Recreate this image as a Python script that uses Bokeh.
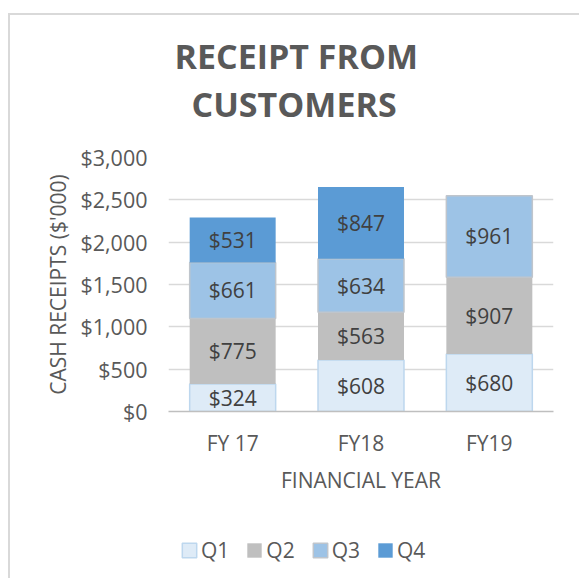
from bokeh.plotting import figure
from bokeh.layouts import column
from bokeh.models import ColumnDataSource, NumeralTickFormatter, Title, Legend, LegendItem
from bokeh.core.properties import value
from bokeh.embed import file_html
from bokeh.resources import INLINE
import numpy as np

categories = ["FY 17", "FY18", "FY19"]
q1 = [324, 608, 680]
q2 = [775, 563, 907]
q3 = [661, 634, 961]
q4 = [531, 847, 0]
quarters = ["Q1", "Q2", "Q3", "Q4"]
y_ticks = [0, 500, 1000, 1500, 2000, 2500, 3000]

fills = ["#DEEBF7", "#BFBFBF", "#9DC3E6", "#5B9BD5"]
lines = ["#BDD7EE", None, "#BFC5CC", None]

FONT = "Open Sans"
GREY = "#595959"

src = ColumnDataSource(dict(cat=categories, Q1=q1, Q2=q2, Q3=q3, Q4=q4))

p = figure(x_range=categories, y_range=(0, 3000), width=569, height=490,
           output_backend="svg", toolbar_location=None,
           min_border_left=158, min_border_right=26,
           min_border_top=142, min_border_bottom=94)
p.outline_line_color = None

rs = p.vbar_stack(quarters, x="cat", width=0.67, source=src,
                  fill_color=fills, line_color=lines, line_width=1.5)

# data labels
vals = np.array([q1, q2, q3, q4], dtype=float)
tops = np.cumsum(vals, axis=0)
mids = tops - vals / 2
lx, ly, lt = [], [], []
for qi in range(4):
    for ci, c in enumerate(categories):
        if vals[qi, ci] > 0:
            lx.append(c)
            ly.append(mids[qi, ci])
            lt.append("${:,.0f}".format(vals[qi, ci]))
p.text(x=lx, y=ly, text=lt, text_align="center", text_baseline="middle",
       text_font=value(FONT), text_font_size="21px", text_color="#404040")

# title (two lines)
p.add_layout(Title(text="CUSTOMERS", align="left", offset=23, text_font=FONT,
                   text_font_size="34px", text_font_style="bold",
                   text_color=GREY, standoff=62), "above")
p.add_layout(Title(text="RECEIPT FROM", align="left", offset=6, text_font=FONT,
                   text_font_size="34px", text_font_style="bold",
                   text_color=GREY, standoff=-62), "above")

# axes
p.yaxis.ticker = y_ticks
p.yaxis.formatter = NumeralTickFormatter(format="$0,0")
p.yaxis.axis_line_color = None
p.yaxis.major_tick_line_color = None
p.yaxis.minor_tick_line_color = None
p.yaxis.major_label_text_font = FONT
p.yaxis.major_label_text_font_size = "21.5px"
p.yaxis.major_label_text_color = GREY
p.yaxis.major_label_standoff = 15
p.yaxis.axis_label = "CASH RECEIPTS ($'000)"
p.yaxis.axis_label_text_font = FONT
p.yaxis.axis_label_text_font_size = "21px"
p.yaxis.axis_label_text_font_style = "normal"
p.yaxis.axis_label_text_color = GREY
p.yaxis.axis_label_standoff = 5

p.xaxis.axis_line_color = "#BFBFBF"
p.xaxis.axis_line_width = 1.5
p.xaxis.major_tick_line_color = None
p.xaxis.minor_tick_line_color = None
p.xaxis.major_label_text_font = FONT
p.xaxis.major_label_text_font_size = "21px"
p.xaxis.major_label_text_color = GREY
p.xaxis.major_label_standoff = 11
p.xaxis.axis_label = "FINANCIAL YEAR"
p.xaxis.axis_label_text_font = FONT
p.xaxis.axis_label_text_font_size = "21px"
p.xaxis.axis_label_text_font_style = "normal"
p.xaxis.axis_label_text_color = GREY
p.xaxis.axis_label_standoff = 6

p.xgrid.grid_line_color = None
p.ygrid.grid_line_color = "#D9D9D9"
p.ygrid.grid_line_width = 1.5

# legend strip under the chart: same stacked bars (hidden) feed the legend
p2 = figure(width=569, height=73, x_range=categories, y_range=(-2, -1),
            x_axis_type=None, y_axis_type=None, output_backend="svg",
            toolbar_location=None, min_border=0)
p2.outline_line_color = None
p2.grid.visible = False
leg_rs = p2.vbar_stack(quarters, x="cat", width=0.67, source=src,
                       fill_color=fills, line_color=lines, line_width=1.5)
for r in leg_rs:
    r.visible = False
lg = Legend(items=[LegendItem(label=q, renderers=[r]) for q, r in zip(quarters, leg_rs)],
            orientation="horizontal", location=(12, 14),
            background_fill_alpha=0, border_line_color=None,
            inactive_fill_alpha=0,
            label_text_font=FONT, label_text_font_size="21px", label_text_color=GREY,
            glyph_width=18, glyph_height=18, label_standoff=3, spacing=16,
            padding=0, margin=0)
p2.add_layout(lg)

layout = column(p, p2)
layout.styles = {"border-top": "2px solid #D9D9D9", "border-left": "2px solid #D9D9D9",
                 "margin-top": "13px", "margin-left": "8px"}

open("out.html", "w").write(file_html(layout, INLINE))
